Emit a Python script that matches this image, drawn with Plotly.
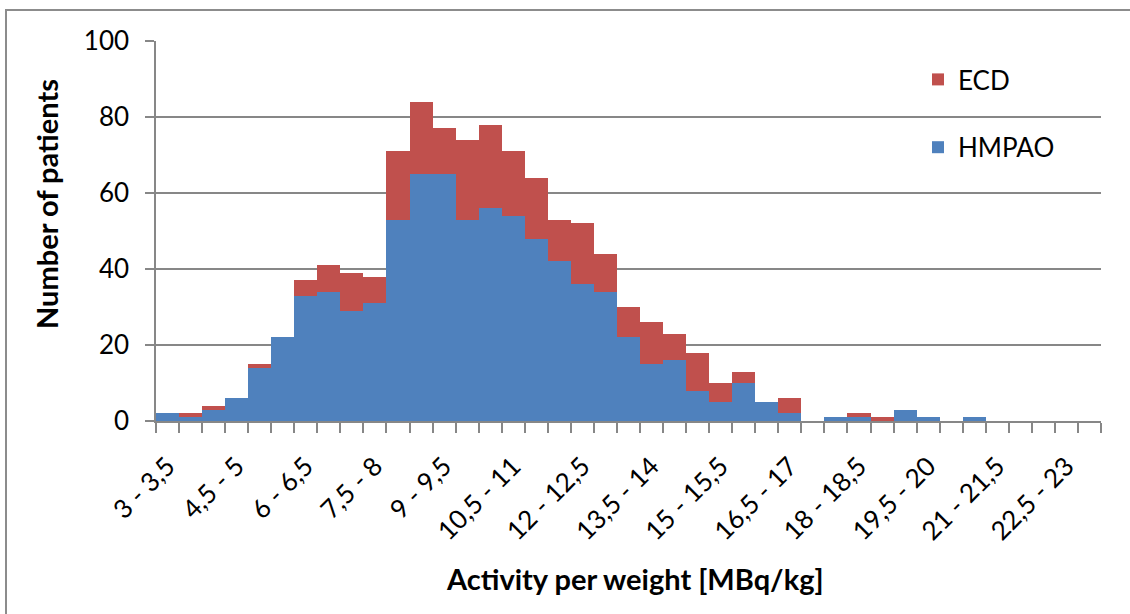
import plotly.graph_objects as go

categories = ["3 - 3,5", "3,5 - 4", "4 - 4,5", "4,5 - 5", "5 - 5,5", "5,5 - 6",
              "6 - 6,5", "6,5 - 7", "7 - 7,5", "7,5 - 8", "8 - 8,5", "8,5 - 9",
              "9 - 9,5", "9,5 - 10", "10 - 10,5", "10,5 - 11", "11 - 11,5", "11,5 - 12",
              "12 - 12,5", "12,5 - 13", "13 - 13,5", "13,5 - 14", "14 - 14,5", "14,5 - 15",
              "15 - 15,5", "15,5 - 16", "16 - 16,5", "16,5 - 17", "17 - 17,5", "17,5 - 18",
              "18 - 18,5", "18,5 - 19", "19 - 19,5", "19,5 - 20", "20 - 20,5", "20,5 - 21",
              "21 - 21,5", "21,5 - 22", "22 - 22,5", "22,5 - 23", "23 - 23,5"]

hmpao = [2, 1, 3, 6, 14, 22, 33, 34, 29, 31, 53, 65, 65, 53, 56, 54, 48, 42, 36, 34,
         22, 15, 16, 8, 5, 10, 5, 2, 0, 1, 1, 0, 3, 1, 0, 1, 0, 0, 0, 0, 0]
ecd = [0, 1, 1, 0, 1, 0, 4, 7, 10, 7, 18, 19, 12, 21, 22, 17, 16, 11, 16, 10,
       8, 11, 7, 10, 5, 3, 0, 4, 0, 0, 1, 1, 0, 0, 0, 0, 0, 0, 0, 0, 0]

tick_text = [c if i % 3 == 0 and i < 40 else "" for i, c in enumerate(categories)]
y_ticks = [0, 20, 40, 60, 80, 100]

FONT = "Lato"
GRID = "#878787"

fig = go.Figure()
fig.add_trace(go.Bar(x=categories, y=hmpao, name="HMPAO", legendgroup="h", legendrank=2,
                     marker=dict(color="#4F81BD", line=dict(width=0))))
fig.add_trace(go.Bar(x=categories, y=ecd, name="ECD", legendgroup="e", legendrank=1,
                     marker=dict(color="#C0504D", line=dict(width=0))))

L, R, T, B = 156, 29, 41, 193
W, H = 1130, 614
pw, ph = W - L - R, H - T - B

def px(x):
    return (x - L) / pw

def py(y):
    return (H - B - y) / ph

fig.update_layout(
    width=W, height=H,
    margin=dict(l=L, r=R, t=T, b=B),
    barmode="stack", bargap=0,
    plot_bgcolor="white", paper_bgcolor="white",
    font=dict(family=FONT, size=26, color="black"),
    showlegend=True,
    legend=dict(x=px(918), y=py(56), xanchor="left", yanchor="top",
                traceorder="grouped", tracegroupgap=31,
                bgcolor="rgba(0,0,0,0)", font=dict(family=FONT, size=26)),
    xaxis=dict(type="category", tickmode="array", tickvals=categories, ticktext=tick_text,
               tickangle=-45, tickson="boundaries", ticks="outside", ticklen=10,
               tickcolor=GRID, tickwidth=1.5, showline=True, linecolor=GRID, linewidth=1.5,
               showgrid=False, tickfont=dict(family=FONT, size=26), ticklabelstandoff=18,
               range=[-0.5, len(categories) - 0.5]),
    yaxis=dict(range=[0, 100], tickvals=y_ticks, ticks="outside", ticklen=9,
               tickcolor=GRID, tickwidth=1.5, showline=True, linecolor=GRID, linewidth=1.5,
               showgrid=True, gridcolor=GRID, gridwidth=1.5, zeroline=False,
               tickfont=dict(family=FONT, size=26), ticklabelstandoff=11),
    shapes=[dict(type="rect", xref="paper", yref="paper",
                 x0=px(6), x1=px(1160), y0=py(640), y1=py(10),
                 line=dict(color="#8c8c8c", width=2), fillcolor="rgba(0,0,0,0)",
                 layer="below")],
    annotations=[
        dict(text="<b>Number of patients</b>", xref="paper", yref="paper",
             x=px(46), y=py(204), xanchor="center", yanchor="middle",
             textangle=-90, showarrow=False,
             font=dict(family=FONT, size=29, color="black")),
        dict(text="<b>Activity per weight [MBq/kg]</b>", xref="paper", yref="paper",
             x=px(635), y=py(578), xanchor="center", yanchor="middle", showarrow=False,
             font=dict(family=FONT, size=29, color="black")),
    ],
)

fig.write_html("out.html")
